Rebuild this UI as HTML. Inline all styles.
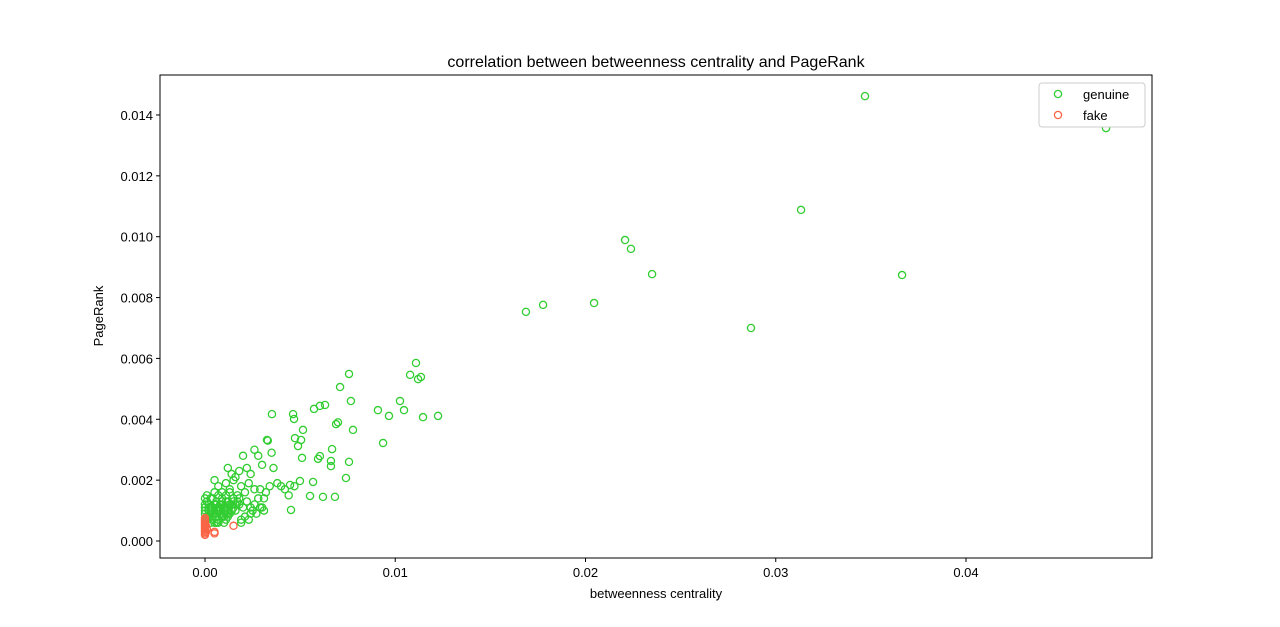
<!DOCTYPE html>
<html><head><meta charset="utf-8"><style>
body{margin:0;background:#fff;}
svg{display:block;font-family:"Liberation Sans","DejaVu Sans",sans-serif;}
</style></head><body>
<svg id="chart" width="1280" height="627"></svg>
<script>
const genuineX=[0.04736,0.03469,0.03133,0.03664,0.02208,0.02239,0.0235,0.02045,0.01777,0.01687,0.0287,0.01109,0.01078,0.0112,0.01135,0.00757,0.0071,0.01025,0.00767,0.01046,0.00909,0.00967,0.01146,0.01225,0.00352,0.00463,0.00468,0.00573,0.00604,0.00631,0.00778,0.00699,0.00689,0.00936,0.00515,0.00473,0.00505,0.00489,0.0051,0.00326,0.00668,0.00604,0.00594,0.00662,0.00662,0.00757,0.00741,0.00683,0.0062,0.00568,0.00552,0.00499,0.00447,0.00452,
0.0000,0.0001,0.0002,0.0003,0.0004,0.0005,0.0006,0.0007,0.0008,0.0009,
0.0010,0.0011,0.0012,0.0013,0.0014,0.0015,0.0000,0.0001,0.0002,0.0003,
0.0004,0.0005,0.0006,0.0007,0.0008,0.0009,0.0010,0.0011,0.0012,0.0013,
0.0005,0.0007,0.0009,0.0011,0.0013,0.0015,0.0017,0.0019,0.0021,0.0023,
0.0012,0.0014,0.0016,0.0018,0.0020,0.0022,0.0024,0.0026,0.0028,0.0030,
0.0016,0.0018,0.0020,0.0022,0.0024,0.0026,0.0028,0.0030,0.0032,0.0034,
0.0036,0.0038,0.0040,0.0042,0.0044,0.0047,0.0033,0.0035,0.0031,0.0029,
0.0001,0.0003,0.0005,0.0007,0.0009,0.0011,0.0013,0.0015,0.0017,0.0019,
0.0021,0.0023,0.0025,0.0027,0.0029,0.0031,0.0019,0.0024,0.0026,0.0006,
0.0000,0.0002,0.0004,0.0006,0.0008,0.0010,0.0012,0.0014,0.0003,0.0007,
0.0000,0.0002,0.0004,0.0006,0.0008,0.0010,0.0012,0.0014,0.0005,0.0009,
0.0001,0.0003,0.0005,0.0007,0.0009,0.0011,0.0013,0.0015,0.0006,0.0010,
0.0000,0.0002,0.0004,0.0006,0.0008,0.0010,0.0012,0.0016,0.0018,0.0011],
genuineY=[0.01357,0.01462,0.01088,0.00874,0.00989,0.0096,0.00877,0.00782,0.00776,0.00753,0.007,0.00585,0.00546,0.00532,0.00539,0.00549,0.00506,0.0046,0.0046,0.0043,0.0043,0.00411,0.00407,0.00411,0.00417,0.00417,0.00401,0.00434,0.00444,0.00447,0.00365,0.0039,0.00384,0.00322,0.00365,0.00338,0.00332,0.00312,0.00273,0.00332,0.00302,0.00279,0.0027,0.00263,0.00246,0.0026,0.00207,0.00145,0.00145,0.00194,0.00148,0.00197,0.00184,0.00102,
0.0010,0.0013,0.0008,0.0011,0.0014,0.0009,0.0012,0.0007,0.0010,0.0013,
0.0008,0.0011,0.0009,0.0012,0.0010,0.0013,0.0014,0.0007,0.0012,0.0009,
0.0007,0.0012,0.0008,0.0011,0.0009,0.0012,0.0010,0.0007,0.0013,0.0009,
0.0020,0.0018,0.0016,0.0019,0.0017,0.0020,0.0015,0.0018,0.0016,0.0019,
0.0024,0.0022,0.0021,0.0023,0.0028,0.0024,0.0022,0.0030,0.0028,0.0025,
0.0012,0.0014,0.0011,0.0013,0.0009,0.0012,0.0014,0.0011,0.0016,0.0018,
0.0024,0.0019,0.0018,0.0017,0.0015,0.0018,0.0033,0.0029,0.0014,0.0017,
0.0015,0.0014,0.0016,0.0015,0.0014,0.0015,0.0016,0.0014,0.0013,0.0007,
0.0008,0.0007,0.0010,0.0009,0.0011,0.0010,0.0006,0.0011,0.0017,0.0006,
0.0009,0.0010,0.0011,0.0010,0.0011,0.0010,0.0011,0.0010,0.0006,0.0006,
0.0012,0.0011,0.0010,0.0009,0.0012,0.0011,0.0008,0.0012,0.0006,0.0008,
0.0008,0.0009,0.0012,0.0010,0.0008,0.0009,0.0012,0.0011,0.0010,0.0006,
0.0011,0.0009,0.0009,0.0013,0.0011,0.0008,0.0010,0.0010,0.0012,0.0013],
fakeX=[0.0,0.0,0.0,0.0,0.0,0.0,0.0,0.0,0.0,0.0,0.0,0.0,0.00005,0.00005,0.0005,0.0005,0.0015,0.0001],
fakeY=[0.0002,0.00025,0.0003,0.00035,0.0004,0.00045,0.0005,0.00055,0.0006,0.00065,0.0007,0.00075,0.0003,0.0005,0.0003,0.00025,0.0005,0.0004],
xTicks=[0,0.01,0.02,0.03,0.04],xTickLabels=["0.00","0.01","0.02","0.03","0.04"],
yTicks=[0,0.002,0.004,0.006,0.008,0.01,0.012,0.014],yTickLabels=["0.000","0.002","0.004","0.006","0.008","0.010","0.012","0.014"];
const L=160,R=1152,T=75,B=558;
const sx=v=>205+v*19025, sy=v=>541-v*30430;
const svg=document.getElementById('chart'),NS='http://www.w3.org/2000/svg';
function mk(t,a,txt){const e=document.createElementNS(NS,t);for(const k in a)e.setAttribute(k,a[k]);if(txt!==undefined)e.textContent=txt;svg.appendChild(e);return e;}
const t=mk('text',{x:656,y:67,'text-anchor':'middle','font-size':16},'correlation between betweenness centrality and PageRank');

const gn=Math.min(genuineX.length,genuineY.length);
for(let i=0;i<gn;i++){const c=mk('circle',{cx:sx(genuineX[i]),cy:sy(genuineY[i]),r:3.6,fill:'none',stroke:'#32cd32','stroke-width':1.3});
}
const fn=Math.min(fakeX.length,fakeY.length);
for(let i=0;i<fn;i++){const c=mk('circle',{cx:sx(fakeX[i]),cy:sy(fakeY[i]),r:3.6,fill:'none',stroke:'#fa6446','stroke-width':1.3});
}
const fr=mk('rect',{x:L,y:T,width:R-L,height:B-T,fill:'none',stroke:'#000','stroke-width':1});

xTicks.forEach((v,i)=>{mk('line',{x1:sx(v),x2:sx(v),y1:B,y2:B+4,stroke:'#000'});
const l=mk('text',{x:sx(v),y:B+19,'text-anchor':'middle','font-size':13},xTickLabels[i]);
});
yTicks.forEach((v,i)=>{mk('line',{x1:L-4,x2:L,y1:sy(v),y2:sy(v),stroke:'#000'});
const l=mk('text',{x:L-7,y:sy(v)+5,'text-anchor':'end','font-size':13},yTickLabels[i]);
});
const xt=mk('text',{x:656,y:598,'text-anchor':'middle','font-size':13},'betweenness centrality');

const yt=mk('text',{x:103,y:316,'text-anchor':'middle','font-size':13,transform:'rotate(-90 103 316)'},'PageRank');

const lg=mk('rect',{x:1039,y:83,width:106,height:44,rx:3,fill:'#fff',stroke:'#ccc'});

[['genuine','#32cd32',94],['fake','#fa6446',115]].forEach(([n,c,y])=>{
mk('circle',{cx:1058,cy:y,r:3.6,fill:'none',stroke:c,'stroke-width':1.3});
const e=mk('text',{x:1083,y:y+5,'font-size':13},n);
});
</script>
</body></html>
